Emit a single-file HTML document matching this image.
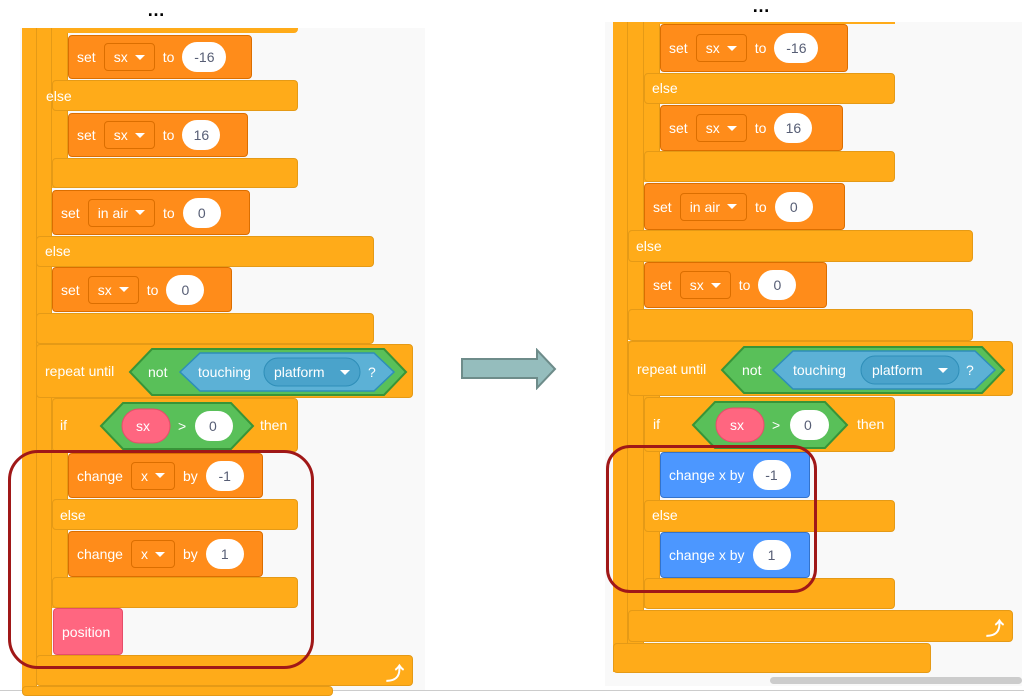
<!DOCTYPE html>
<html><head><meta charset="utf-8"><style>
body{margin:0;width:1024px;height:694px;background:#fff;position:relative;overflow:hidden;font-family:"Liberation Sans",sans-serif}
div{box-sizing:border-box}
.a{position:absolute}
.o{position:absolute;background:#FFAB19;border:1px solid #E59A16;border-radius:4px}
.c{position:absolute;background:#FFAB19}
.d{position:absolute;background:#FF8C1A;border:1px solid #DB6E00;border-radius:4px;color:#fff;font-size:14px;display:flex;align-items:center}
.bl{position:absolute;background:#4C97FF;border:1px solid #3373CC;border-radius:4px;color:#fff;font-size:14px;display:flex;align-items:center}
.t{position:absolute;color:#fff;font-size:14px}
.dd{border:1px solid #DB6E00;background:#FF8C1A;border-radius:4px;height:28px;display:flex;align-items:center;padding:0 9px;margin:0 8px;color:#fff}
.dd:after{content:"";border-left:5px solid transparent;border-right:5px solid transparent;border-top:5px solid #fff;margin-left:7px}
.w{background:#fff;color:#575E75;border-radius:16px;height:30px;display:flex;align-items:center;justify-content:center;font-size:14px}
.red{position:absolute;border:3px solid #A01818;border-radius:30px}
.bg{position:absolute;background:#F9F9F9}
</style></head><body>
<div class="a" style="left:147px;top:0;font-size:18px;font-weight:bold">…</div>
<div class="a" style="left:752px;top:-4px;font-size:18px;font-weight:bold">…</div>
<div class="a" style="left:0;top:690px;width:1024px;height:1px;background:#ccc"></div>

<!-- LEFT -->
<div class="bg" style="left:20px;top:28px;width:405px;height:662px"></div>
<div class="c" style="left:22px;top:28px;width:15px;height:662px;border-right:1px solid #E59A16"></div>
<div class="c" style="left:37px;top:28px;width:15px;height:316px;border-right:1px solid #E59A16"></div>
<div class="c" style="left:52px;top:28px;width:16px;height:160px;border-right:1px solid #E59A16"></div>
<div class="c" style="left:52px;top:28px;width:246px;height:5px;border-radius:0 0 4px 0"></div>
<div class="d" style="left:68px;top:35px;width:184px;height:44px;padding-left:8px">set<div class="dd">sx</div>to<div class="w" style="width:44px;margin-left:8px">-16</div></div>
<div class="o" style="left:52px;top:80px;width:246px;height:31px"></div><div class="t" style="left:46px;top:88px">else</div>
<div class="d" style="left:68px;top:113px;width:180px;height:44px;padding-left:8px">set<div class="dd">sx</div>to<div class="w" style="width:38px;margin-left:8px">16</div></div>
<div class="o" style="left:52px;top:158px;width:246px;height:30px"></div>
<div class="d" style="left:52px;top:190px;width:198px;height:45px;padding-left:8px">set<div class="dd">in air</div>to<div class="w" style="width:38px;margin-left:8px">0</div></div>
<div class="o" style="left:36px;top:236px;width:338px;height:31px"></div><div class="t" style="left:45px;top:243px">else</div>
<div class="d" style="left:52px;top:267px;width:180px;height:45px;padding-left:8px">set<div class="dd">sx</div>to<div class="w" style="width:38px;margin-left:8px">0</div></div>
<div class="o" style="left:36px;top:313px;width:338px;height:31px"></div>
<div class="c" style="left:37px;top:344px;width:15px;height:330px;border-right:1px solid #E59A16"></div>
<div class="o" style="left:36px;top:344px;width:377px;height:54px"></div>
<div class="t" style="left:45px;top:363px">repeat until</div>
<svg class="a" style="left:128px;top:347px" width="280" height="50"><polygon points="2,25 24,2 256,2 278,25 256,48 24,48" fill="#59C059" stroke="#389438" stroke-width="2"/><polygon points="52,25 72,6 246,6 266,25 246,44 72,44" fill="#5CB1D6" stroke="#2E8EB8" stroke-width="1.5"/><rect x="136" y="11" width="96" height="28" rx="14" fill="#4AA3CB" stroke="#2E8EB8"/><text x="20" y="30" fill="#fff" font-size="14" font-family="Liberation Sans">not</text><text x="70" y="30" fill="#fff" font-size="14" font-family="Liberation Sans">touching</text><text x="146" y="30" fill="#fff" font-size="14" font-family="Liberation Sans">platform</text><polygon points="212,23 222,23 217,28" fill="#fff"/><text x="240" y="30" fill="#fff" font-size="14" font-family="Liberation Sans">?</text></svg>
<div class="c" style="left:52px;top:398px;width:16px;height:210px;border-right:1px solid #E59A16"></div>
<div class="o" style="left:52px;top:398px;width:246px;height:54px"></div>
<div class="t" style="left:60px;top:417px">if</div>
<svg class="a" style="left:99px;top:401px" width="156" height="50"><polygon points="2,25 24,2 132,2 154,25 132,48 24,48" fill="#59C059" stroke="#389438" stroke-width="2"/><rect x="23" y="8" width="48" height="34" rx="17" fill="#FF6680" stroke="#E64D6A"/><text x="37" y="30" fill="#fff" font-size="14" font-family="Liberation Sans">sx</text><text x="79" y="30" fill="#fff" font-size="14" font-family="Liberation Sans">&gt;</text><rect x="96" y="10" width="38" height="30" rx="15" fill="#fff"/><text x="110" y="30" fill="#575E75" font-size="14" font-family="Liberation Sans">0</text></svg>
<div class="t" style="left:260px;top:417px">then</div>
<div class="d" style="left:68px;top:453px;width:195px;height:45px;padding-left:8px">change<div class="dd">x</div>by<div class="w" style="width:38px;margin-left:8px">-1</div></div>
<div class="o" style="left:52px;top:499px;width:246px;height:31px"></div><div class="t" style="left:60px;top:507px">else</div>
<div class="d" style="left:68px;top:531px;width:195px;height:46px;padding-left:8px">change<div class="dd">x</div>by<div class="w" style="width:38px;margin-left:8px">1</div></div>
<div class="o" style="left:52px;top:577px;width:246px;height:31px"></div>
<div class="a" style="left:53px;top:608px;width:70px;height:47px;background:#FF6680;border:1px solid #E64D6A;border-radius:4px;color:#fff;font-size:14px;padding:15px 0 0 8px">position</div>
<div class="o" style="left:36px;top:655px;width:377px;height:31px"></div>
<div class="t" style="left:386px;top:660px;font-size:18px;font-weight:bold">⤴</div>
<div class="o" style="left:22px;top:686px;width:311px;height:10px"></div>
<div class="red" style="left:8px;top:450px;width:306px;height:219px"></div>

<!-- ARROW -->
<svg class="a" style="left:460px;top:348px" width="100" height="42"><polygon points="2,11 77,11 77,2 95,21 77,40 77,30 2,30" fill="#95BDBD" stroke="#6E8C8A" stroke-width="2"/></svg>

<!-- RIGHT -->
<div class="bg" style="left:605px;top:22px;width:417px;height:664px"></div>
<div class="a" style="left:770px;top:677px;width:252px;height:7px;background:#ccc;border-radius:4px"></div>
<div class="c" style="left:613px;top:22px;width:15px;height:650px;border-right:1px solid #E59A16"></div>
<div class="c" style="left:628px;top:22px;width:16px;height:318px;border-right:1px solid #E59A16"></div>
<div class="c" style="left:644px;top:22px;width:16px;height:160px;border-right:1px solid #E59A16"></div>
<div class="c" style="left:644px;top:22px;width:251px;height:2px"></div>
<div class="d" style="left:660px;top:24px;width:188px;height:48px;padding-left:8px">set<div class="dd">sx</div>to<div class="w" style="width:44px;margin-left:8px">-16</div></div>
<div class="o" style="left:644px;top:73px;width:251px;height:31px"></div><div class="t" style="left:652px;top:80px">else</div>
<div class="d" style="left:660px;top:105px;width:183px;height:46px;padding-left:8px">set<div class="dd">sx</div>to<div class="w" style="width:38px;margin-left:8px">16</div></div>
<div class="o" style="left:644px;top:151px;width:251px;height:31px"></div>
<div class="d" style="left:644px;top:183px;width:201px;height:47px;padding-left:8px">set<div class="dd">in air</div>to<div class="w" style="width:38px;margin-left:8px">0</div></div>
<div class="o" style="left:628px;top:230px;width:345px;height:32px"></div><div class="t" style="left:636px;top:238px">else</div>
<div class="d" style="left:644px;top:262px;width:183px;height:46px;padding-left:8px">set<div class="dd">sx</div>to<div class="w" style="width:38px;margin-left:8px">0</div></div>
<div class="o" style="left:628px;top:309px;width:345px;height:32px"></div>
<div class="c" style="left:628px;top:341px;width:16px;height:302px;border-right:1px solid #E59A16"></div>
<div class="o" style="left:628px;top:341px;width:385px;height:55px"></div>
<div class="t" style="left:637px;top:361px">repeat until</div>
<svg class="a" style="left:720px;top:345px" width="290" height="50"><polygon points="2,25 24,2 262,2 284,25 262,48 24,48" fill="#59C059" stroke="#389438" stroke-width="2"/><polygon points="53,25 73,6 255,6 275,25 255,44 73,44" fill="#5CB1D6" stroke="#2E8EB8" stroke-width="1.5"/><rect x="141" y="11" width="98" height="28" rx="14" fill="#4AA3CB" stroke="#2E8EB8"/><text x="22" y="30" fill="#fff" font-size="14" font-family="Liberation Sans">not</text><text x="73" y="30" fill="#fff" font-size="14" font-family="Liberation Sans">touching</text><text x="152" y="30" fill="#fff" font-size="14" font-family="Liberation Sans">platform</text><polygon points="218,23 228,23 223,28" fill="#fff"/><text x="246" y="30" fill="#fff" font-size="14" font-family="Liberation Sans">?</text></svg>
<div class="c" style="left:644px;top:396px;width:16px;height:212px;border-right:1px solid #E59A16"></div>
<div class="o" style="left:644px;top:397px;width:251px;height:55px"></div>
<div class="t" style="left:653px;top:416px">if</div>
<svg class="a" style="left:691px;top:400px" width="160" height="50"><polygon points="2,25 24,2 134,2 156,25 134,48 24,48" fill="#59C059" stroke="#389438" stroke-width="2"/><rect x="25" y="8" width="48" height="34" rx="17" fill="#FF6680" stroke="#E64D6A"/><text x="39" y="30" fill="#fff" font-size="14" font-family="Liberation Sans">sx</text><text x="81" y="30" fill="#fff" font-size="14" font-family="Liberation Sans">&gt;</text><rect x="99" y="10" width="39" height="30" rx="15" fill="#fff"/><text x="113" y="30" fill="#575E75" font-size="14" font-family="Liberation Sans">0</text></svg>
<div class="t" style="left:857px;top:416px">then</div>
<div class="bl" style="left:660px;top:452px;width:150px;height:46px;padding-left:8px">change x by<div class="w" style="width:38px;margin-left:8px">-1</div></div>
<div class="o" style="left:644px;top:500px;width:251px;height:32px"></div><div class="t" style="left:652px;top:507px">else</div>
<div class="bl" style="left:660px;top:532px;width:150px;height:46px;padding-left:8px">change x by<div class="w" style="width:38px;margin-left:8px">1</div></div>
<div class="o" style="left:644px;top:578px;width:251px;height:31px"></div>
<div class="o" style="left:628px;top:610px;width:385px;height:32px"></div>
<div class="t" style="left:986px;top:615px;font-size:18px;font-weight:bold">⤴</div>
<div class="o" style="left:613px;top:643px;width:318px;height:30px"></div>
<div class="red" style="left:606px;top:445px;width:211px;height:148px;border-radius:24px"></div>
</body></html>
